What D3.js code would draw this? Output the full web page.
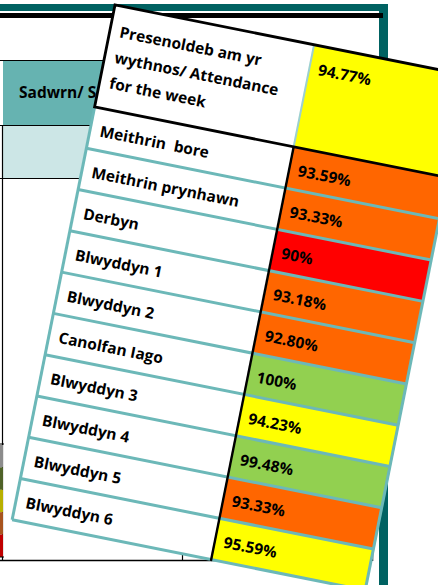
<!DOCTYPE html>
<html>
<head>
<meta charset="utf-8">
<script src="https://cdn.jsdelivr.net/npm/d3@7"></script>
<style>
  body { margin: 0; background: #fff; }
  svg { display: block; }
  text { font-family: "Open Sans", "Noto Sans", sans-serif; font-weight: 700; }
</style>
</head>
<body>
<svg id="chart" width="438" height="585"></svg>
<script>

// attendance per class (weekly)
var headerLines = ["Presenoldeb am yr", "wythnos/ Attendance", "for the week"];
var weekTotal = 94.77;
var classes = ["Meithrin  bore", "Meithrin prynhawn", "Derbyn", "Blwyddyn 1", "Blwyddyn 2",
               "Canolfan Iago", "Blwyddyn 3", "Blwyddyn 4", "Blwyddyn 5", "Blwyddyn 6"];
var attendance = [93.59, 93.33, 90, 93.18, 92.80, 100, 94.23, 99.48, 93.33, 95.59];
var valueText = ["93.59%", "93.33%", "90%", "93.18%", "92.80%", "100%", "94.23%", "99.48%", "93.33%", "95.59%"];

var svg = d3.select("#chart");

//**************************** BACKGROUND (the sheet underneath) ****************************
var bg = svg.append("g").attr("class", "background");

bg.append("rect").attr("x", 0).attr("y", 0).attr("width", 438).attr("height", 585).attr("fill", "#fff");

// teal frame top + right
bg.append("rect").attr("x", 0).attr("y", 4).attr("width", 388).attr("height", 7).attr("fill", "#006262");
bg.append("rect").attr("x", 379).attr("y", 4).attr("width", 9).attr("height", 581).attr("fill", "#006262");
bg.append("rect").attr("x", 0).attr("y", 13).attr("width", 383).attr("height", 5).attr("fill", "#000");

// left table
bg.append("rect").attr("x", 3).attr("y", 60).attr("width", 376).attr("height", 65).attr("fill", "#66b3b1");
bg.append("rect").attr("x", 3).attr("y", 125).attr("width", 376).attr("height", 53).attr("fill", "#cce6e6");

[60, 125, 178].forEach(function (y) {
    bg.append("line").attr("x1", 0).attr("x2", 379).attr("y1", y + 0.5).attr("y2", y + 0.5)
        .attr("stroke", "#000").attr("stroke-width", 1.2);
});
bg.append("line").attr("x1", 0).attr("x2", 372).attr("y1", 560.5).attr("y2", 560.5)
    .attr("stroke", "#000").attr("stroke-width", 1.5);
bg.append("line").attr("x1", 2.5).attr("x2", 2.5).attr("y1", 125).attr("y2", 561)
    .attr("stroke", "#000").attr("stroke-width", 1.2);
bg.append("line").attr("x1", 182.5).attr("x2", 182.5).attr("y1", 540).attr("y2", 561)
    .attr("stroke", "#000").attr("stroke-width", 1.2);
bg.append("line").attr("x1", 372.5).attr("x2", 372.5).attr("y1", 178).attr("y2", 561)
    .attr("stroke", "#000").attr("stroke-width", 1.5);

// little legend strip peeking out on the left
var stripColors = ["#8c8c8c", "#4f6228", "#b8b000", "#a8541e", "#c00000"];
bg.selectAll("rect.strip").data(stripColors).enter().append("rect")
    .attr("class", "strip")
    .attr("x", 0).attr("width", 3)
    .attr("y", function (d, i) { return 445 + i * 22.4; })
    .attr("height", 22.4)
    .attr("fill", function (d) { return d; });
bg.append("line").attr("x1", 0).attr("x2", 4).attr("y1", 444).attr("y2", 444).attr("stroke", "#000").attr("stroke-width", 1);
bg.append("line").attr("x1", 0).attr("x2", 4).attr("y1", 557).attr("y2", 557).attr("stroke", "#000").attr("stroke-width", 1);

bg.append("text").attr("x", 19).attr("y", 98).attr("font-size", "15.5px").attr("fill", "#000")
    .text("Sadwrn/ Saturday");

//**************************** ROTATED ATTENDANCE TABLE ****************************
var tableW = 360, labelW = 203, headerH = 104, tableH = 525;
var fs = "15.5px";

var rowY = d3.scaleBand().domain(classes).range([headerH, tableH]);
var colour = d3.scaleThreshold().domain([91, 94, 97])
    .range(["#ff0000", "#ff6600", "#ffff00", "#92d050"]);

var teal = "#6cb8b8";

var table = svg.append("g")
    .attr("class", "attTable")
    .attr("transform", "translate(115,5) rotate(11.3)");

var cellLayer = table.append("g").attr("class", "cells");
var gridLayer = table.append("g").attr("class", "grid");
var textLayer = table.append("g").attr("class", "labels");

// header cells
cellLayer.append("rect").attr("x", 0).attr("y", 0).attr("width", labelW).attr("height", headerH).attr("fill", "#fff");
cellLayer.append("rect").attr("x", labelW).attr("y", 0).attr("width", tableW - labelW).attr("height", headerH)
    .attr("fill", colour(weekTotal));

// row cells
cellLayer.selectAll("rect.lab")
    .data(classes)
    .enter()
    .append("rect")
    .attr("class", "lab")
    .attr("x", 0).attr("y", function (d) { return rowY(d); })
    .attr("width", labelW).attr("height", rowY.bandwidth())
    .attr("fill", "#fff");

cellLayer.selectAll("rect.val")
    .data(classes)
    .enter()
    .append("rect")
    .attr("class", "val")
    .attr("x", labelW).attr("y", function (d) { return rowY(d); })
    .attr("width", tableW - labelW).attr("height", rowY.bandwidth())
    .attr("fill", function (d, i) { return colour(attendance[i]); });

// teal grid
gridLayer.selectAll("line.rowline")
    .data(classes)
    .enter()
    .append("line")
    .attr("class", "rowline")
    .attr("x1", 0).attr("x2", tableW)
    .attr("y1", function (d) { return rowY(d) + rowY.bandwidth(); })
    .attr("y2", function (d) { return rowY(d) + rowY.bandwidth(); })
    .attr("stroke", teal).attr("stroke-width", 3);
gridLayer.append("line").attr("x1", 0).attr("x2", 0).attr("y1", headerH).attr("y2", tableH)
    .attr("stroke", teal).attr("stroke-width", 3);
gridLayer.append("line").attr("x1", tableW).attr("x2", tableW).attr("y1", 0).attr("y2", tableH)
    .attr("stroke", teal).attr("stroke-width", 3);
gridLayer.append("line").attr("x1", labelW).attr("x2", labelW).attr("y1", 0).attr("y2", headerH)
    .attr("stroke", "#9cd0d0").attr("stroke-width", 2);

// black header box + column rule
gridLayer.append("line").attr("x1", labelW).attr("x2", labelW).attr("y1", headerH).attr("y2", tableH + 1.5)
    .attr("stroke", "#000").attr("stroke-width", 2.4);
gridLayer.append("path")
    .attr("d", "M" + tableW + ",0H0V" + headerH + "H" + tableW)
    .attr("fill", "none").attr("stroke", "#000").attr("stroke-width", 2.8);

// header text
textLayer.selectAll("text.head")
    .data(headerLines)
    .enter()
    .append("text")
    .attr("class", "head")
    .attr("x", 10)
    .attr("y", function (d, i) { return 31 + i * 26; })
    .attr("font-size", fs)
    .text(function (d) { return d; });

textLayer.append("text")
    .attr("x", labelW + 9).attr("y", 29)
    .attr("font-size", fs)
    .text(weekTotal.toFixed(2) + "%");

// row text
textLayer.selectAll("text.lab")
    .data(classes)
    .enter()
    .append("text")
    .attr("class", "lab")
    .attr("x", 10).attr("y", function (d) { return rowY(d) + 28; })
    .attr("font-size", fs)
    .style("white-space", "pre")
    .text(function (d) { return d; });

textLayer.selectAll("text.val")
    .data(classes)
    .enter()
    .append("text")
    .attr("class", "val")
    .attr("x", labelW + 9).attr("y", function (d) { return rowY(d) + 28; })
    .attr("font-size", fs)
    .text(function (d, i) { return valueText[i]; });

</script>
</body>
</html>
